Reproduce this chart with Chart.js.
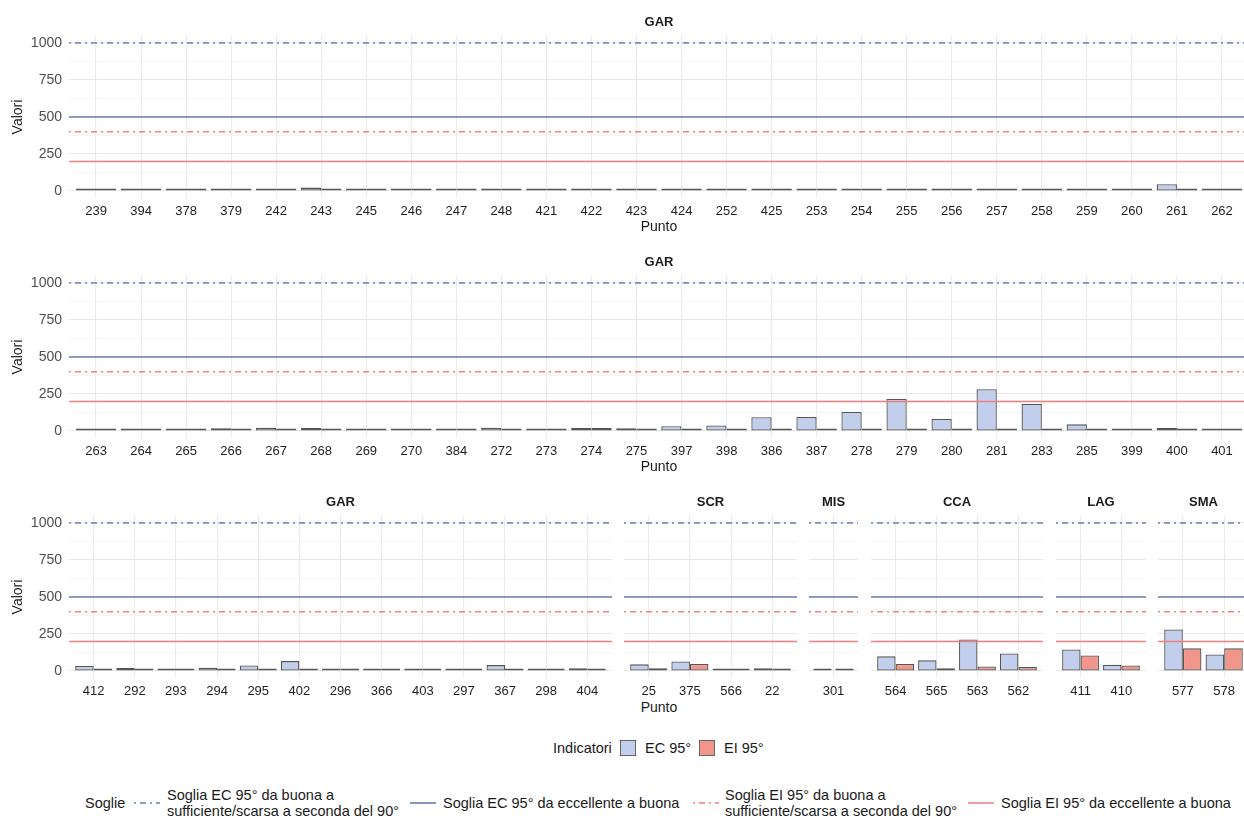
<!DOCTYPE html>
<html lang="it">
<head>
<meta charset="utf-8">
<script src="https://cdn.jsdelivr.net/npm/chart.js@4.4.1/dist/chart.umd.min.js"></script>
<style>
  html, body { margin: 0; padding: 0; background: #fff; overflow: hidden; }
  body { width: 1244px; height: 816px; position: relative; font-family: "Liberation Sans", Arial, sans-serif; color: #1a1a1a; }
  canvas { position: absolute; }
  .txt { position: absolute; white-space: nowrap; font-size: 14.5px; line-height: 16px; }
  .box { position: absolute; width: 16px; height: 16px; border: 1px solid #666; box-sizing: border-box; }
  .key { position: absolute; }
</style>
</head>
<body>

<div class="txt" id="puntoRiga3" style="left:659px; top:699px; font-size:14px; transform:translateX(-50%);">Punto</div>

<!-- legenda indicatori -->
<div class="txt" style="left:553px; top:740px;">Indicatori</div>
<div class="box" style="left:620px; top:740px; background:#c1cfec;"></div>
<div class="txt" style="left:645px; top:740px;">EC 95°</div>
<div class="box" style="left:699px; top:740px; background:#f2968c;"></div>
<div class="txt" style="left:724px; top:740px;">EI 95°</div>

<!-- legenda soglie -->
<div class="txt" style="left:85px; top:795px;">Soglie</div>
<svg class="key" style="left:134px; top:798px;" width="26" height="10"><line x1="0" y1="5" x2="26" y2="5" stroke="#6a7db1" stroke-width="1.4" stroke-dasharray="2 4 6 4"/></svg>
<div class="txt" style="left:167px; top:787px;">Soglia EC 95° da buona a<br>sufficiente/scarsa a seconda del 90°</div>
<svg class="key" style="left:410px; top:798px;" width="26" height="10"><line x1="0" y1="5" x2="26" y2="5" stroke="#6a7db1" stroke-width="1.6"/></svg>
<div class="txt" style="left:443px; top:795px;">Soglia EC 95° da eccellente a buona</div>
<svg class="key" style="left:693px; top:798px;" width="26" height="10"><line x1="0" y1="5" x2="26" y2="5" stroke="#f08080" stroke-width="1.4" stroke-dasharray="2 4 6 4"/></svg>
<div class="txt" style="left:725px; top:787px;">Soglia EI 95° da buona a<br>sufficiente/scarsa a seconda del 90°</div>
<svg class="key" style="left:968px; top:798px;" width="26" height="10"><line x1="0" y1="5" x2="26" y2="5" stroke="#f08080" stroke-width="1.6"/></svg>
<div class="txt" style="left:1001px; top:795px;">Soglia EI 95° da eccellente a buona</div>

<script>
/********** Dati *************************************/
const puntiGar1 = ['239','394','378','379','242','243','245','246','247','248','421','422','423','424','252','425','253','254','255','256','257','258','259','260','261','262'];
const ecGar1 = [3, 2, 2, 6, 3, 23, 16, 5, 14, 9, 16, 9, 5, 7, 8, 13, 15, 6, 2, 14, 14, 5, 2, 8, 46, 4];
const eiGar1 = [4, 2, 8, 5, 8, 11, 4, 3, 9, 9, 7, 3, 2, 2, 2, 2, 2, 2, 2, 7, 2, 2, 2, 2, 3, 2];

const puntiGar2 = ['263','264','265','266','267','268','269','270','384','272','273','274','275','397','398','386','387','278','279','280','281','283','285','399','400','401'];
const ecGar2 = [13, 9, 3, 18, 22, 20, 6, 7, 11, 22, 11, 20, 18, 32, 38, 93, 95, 128, 216, 81, 282, 182, 45, 6, 20, 8];
const eiGar2 = [3, 9, 3, 9, 4, 11, 5, 4, 7, 11, 4, 20, 11, 15, 10, 5, 5, 6, 12, 15, 8, 9, 5, 4, 4, 4];

const puntiGar3 = ['412','292','293','294','295','402','296','366','403','297','367','298','404'];
const ecGar3 = [34, 20, 11, 22, 38, 67, 2, 10, 11, 6, 40, 12, 18];
const eiGar3 = [11, 7, 2, 7, 7, 7, 2, 3, 2, 3, 8, 6, 6];

const puntiScr = ['25','375','566','22'];
const ecScr = [45, 65, 11, 18];
const eiScr = [18, 47, 5, 7];

const puntiMis = ['301'];
const ecMis = [6];
const eiMis = [11];

const puntiCca = ['564','565','563','562'];
const ecCca = [99, 72, 213, 119];
const eiCca = [47, 18, 31, 27];

const puntiLag = ['411','410'];
const ecLag = [146, 43];
const eiLag = [105, 38];

const puntiSma = ['577','578'];
const ecSma = [280, 112];
const eiSma = [153, 153];

// soglie: EC buona->sufficiente, EC eccellente->buona, EI buona->sufficiente, EI eccellente->buona
const soglieValori = [1000, 500, 400, 200];
const tickY = [0, 250, 500, 750, 1000];
const tickYMinori = [125, 375, 625, 875];

/********** Stili *******************/
const COL_EC = '#c1cfec';
const COL_EI = '#f2968c';
const BORDO = '#555555';
const soglieStili = [
  { colore: '#6a7db1', tratto: [2, 4, 6, 4] },
  { colore: '#6a7db1', tratto: [] },
  { colore: '#f08080', tratto: [2, 4, 6, 4] },
  { colore: '#f08080', tratto: [] }
];
const FONT = '"Liberation Sans", Arial, sans-serif';

/********** Plugin: etichetta del pannello e linee di soglia *******************/
const stripPlugin = {
  id: 'strip',
  afterDraw(chart, args, opts) {
    const { ctx, chartArea } = chart;
    ctx.save();
    ctx.font = 'bold 13px ' + FONT;
    ctx.fillStyle = '#1a1a1a';
    ctx.textAlign = 'center';
    ctx.textBaseline = 'middle';
    ctx.fillText(opts.text, (chartArea.left + chartArea.right) / 2, opts.y);
    ctx.restore();
  }
};

const sogliePlugin = {
  id: 'soglie',
  afterDatasetsDraw(chart) {
    const { ctx, chartArea: a, scales: { y } } = chart;
    ctx.save();
    soglieValori.forEach((v, i) => {
      const py = y.getPixelForValue(v);
      ctx.beginPath();
      ctx.strokeStyle = soglieStili[i].colore;
      ctx.lineWidth = 1.5;
      ctx.setLineDash(soglieStili[i].tratto);
      ctx.moveTo(a.left, py);
      ctx.lineTo(a.right, py);
      ctx.stroke();
    });
    ctx.restore();
  }
};

/********** Pannelli *******************/
const pannelli = [
  { riga: 0, titolo: 'GAR', punti: puntiGar1, ec: ecGar1, ei: eiGar1, left: 69, right: 1249, primo: true, xTitolo: true },
  { riga: 1, titolo: 'GAR', punti: puntiGar2, ec: ecGar2, ei: eiGar2, left: 69, right: 1249, primo: true, xTitolo: true },
  { riga: 2, titolo: 'GAR', punti: puntiGar3, ec: ecGar3, ei: eiGar3, left: 69, right: 612, primo: true },
  { riga: 2, titolo: 'SCR', punti: puntiScr, ec: ecScr, ei: eiScr, left: 624, right: 797 },
  { riga: 2, titolo: 'MIS', punti: puntiMis, ec: ecMis, ei: eiMis, left: 809, right: 858 },
  { riga: 2, titolo: 'CCA', punti: puntiCca, ec: ecCca, ei: eiCca, left: 871, right: 1043 },
  { riga: 2, titolo: 'LAG', punti: puntiLag, ec: ecLag, ei: eiLag, left: 1056, right: 1146 },
  { riga: 2, titolo: 'SMA', punti: puntiSma, ec: ecSma, ei: eiSma, left: 1158, right: 1249 }
];

const ALTEZZA = 240;

function creaPannello(p) {
  const cLeft = p.primo ? 0 : p.left;
  const w = p.right - cLeft;
  const cv = document.createElement('canvas');
  cv.width = w;
  cv.height = ALTEZZA;
  cv.style.left = cLeft + 'px';
  cv.style.top = (p.riga * ALTEZZA) + 'px';
  cv.style.width = w + 'px';
  cv.style.height = ALTEZZA + 'px';
  document.body.appendChild(cv);

  const n = p.punti.length;
  const barre = (valori, colore, nome) => ({
    label: nome,
    data: valori.map((v, i) => ({ x: i, y: v })),
    backgroundColor: colore,
    borderColor: BORDO,
    borderWidth: 1.3,
    borderSkipped: false,
    minBarLength: 2.4,
    categoryPercentage: 0.9,
    barPercentage: n === 1 ? 1 / 1.2 : 1
  });

  new Chart(cv, {
    type: 'bar',
    data: { datasets: [barre(p.ec, COL_EC, 'EC 95°'), barre(p.ei, COL_EI, 'EI 95°')] },
    options: {
      responsive: false,
      animation: false,
      layout: { padding: { top: 35.6, left: 0, right: 0, bottom: 0 } },
      plugins: {
        legend: { display: false },
        tooltip: { enabled: false },
        strip: { text: p.titolo, y: 22.5 }
      },
      scales: {
        x: {
          type: 'linear',
          offset: false,
          min: -0.6,
          max: n - 0.4,
          afterBuildTicks: s => { s.ticks = p.punti.map((c, i) => ({ value: i })); },
          afterFit: s => { s.height = 41.6; },
          border: { display: false },
          grid: { offset: false, color: '#ebebeb', lineWidth: 1.1, drawTicks: false },
          ticks: {
            autoSkip: false, maxRotation: 0, padding: 5,
            color: '#1f1f1f', font: { family: FONT, size: 13 },
            callback: v => p.punti[v]
          },
          title: {
            display: !!p.xTitolo, text: 'Punto', color: '#1a1a1a',
            font: { family: FONT, size: 14 }, padding: { top: 0, bottom: 4.6 }
          }
        },
        y: {
          min: -50,
          max: 1050,
          afterBuildTicks: s => { s.ticks = tickY.concat(tickYMinori).sort((a, b) => a - b).map(v => ({ value: v })); },
          afterFit: s => { s.width = p.primo ? 69 : 0; },
          border: { display: false },
          grid: {
            drawTicks: false,
            color: c => tickY.includes(c.tick.value) ? '#e8e8e8' : '#f3f3f3',
            lineWidth: c => tickY.includes(c.tick.value) ? 1.1 : 0.8
          },
          ticks: {
            display: !!p.primo, padding: 7,
            color: '#4d4d4d', font: { family: FONT, size: 14 },
            callback: v => tickY.includes(v) ? String(v) : ''
          },
          title: {
            display: !!p.primo, text: 'Valori', color: '#1a1a1a',
            font: { family: FONT, size: 14 }, padding: { top: 9.6, bottom: 0 }
          }
        }
      }
    },
    plugins: [stripPlugin, sogliePlugin]
  });
}

pannelli.forEach(creaPannello);
</script>
</body>
</html>
